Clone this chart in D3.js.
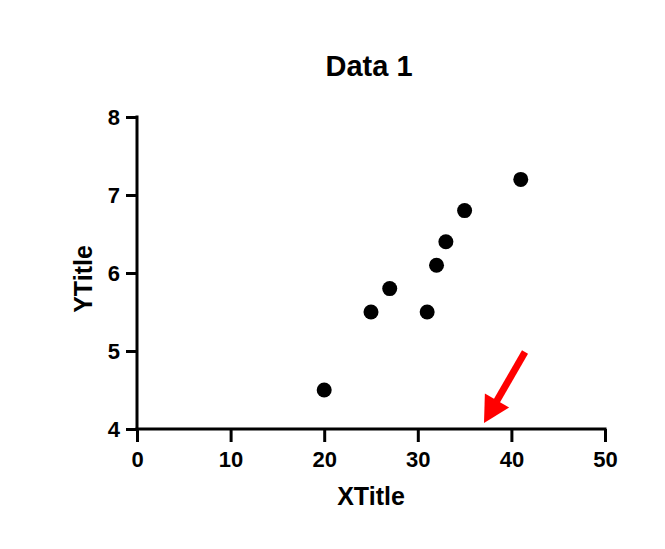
<!DOCTYPE html>
<html>
<head>
<meta charset="utf-8">
<script src="https://cdn.jsdelivr.net/npm/d3@7"></script>
<style>
  body { margin: 0; background: #fff; }
  text { font-family: "Liberation Sans", Arial, sans-serif; font-weight: bold; }
</style>
</head>
<body>
<script>
// Data
var xValues = [20, 25, 27, 31, 32, 33, 35, 41];
var yValues = [4.5, 5.5, 5.8, 5.5, 6.1, 6.4, 6.8, 7.2];
var xTicks = [0, 10, 20, 30, 40, 50];
var yTicks = [4, 5, 6, 7, 8];

var W = 665, H = 549;
var margin = {top: 117, left: 137},
    width = 605 - margin.left,
    height = 429 - margin.top;

var svg = d3.select("body")
  .append("svg")
    .attr("width", W)
    .attr("height", H);

var g = svg.append("g")
    .attr("transform", "translate(" + margin.left + "," + margin.top + ")");

var x = d3.scaleLinear().domain([0, 50]).range([0, width]);
var y = d3.scaleLinear().domain([4, 8]).range([height, 0]);

// Axes
var xAxis = g.append("g")
    .attr("transform", "translate(0," + height + ")")
    .call(d3.axisBottom(x).tickValues(xTicks).tickFormat(d3.format("d"))
      .tickSize(13).tickPadding(9).tickSizeOuter(0));

var yAxis = g.append("g")
    .call(d3.axisLeft(y).tickValues(yTicks).tickFormat(d3.format("d"))
      .tickSize(11).tickPadding(6).tickSizeOuter(0));

[xAxis, yAxis].forEach(function(a) {
  a.select(".domain").attr("stroke", "#000").attr("stroke-width", 3);
  a.selectAll(".tick line").attr("stroke", "#000").attr("stroke-width", 3);
  a.selectAll(".tick text").attr("fill", "#000").style("font-size", "22px");
});
// close the corner
xAxis.select(".domain").attr("d", "M-1.5,0H" + (width + 1.5));
yAxis.select(".domain").attr("d", "M0," + (height + 1.5) + "V-1.5");

// Points
g.selectAll(".dot")
  .data(xValues)
  .enter()
  .append("circle")
    .attr("class", "dot")
    .attr("cx", function(d) { return x(d); })
    .attr("cy", function(d, i) { return y(yValues[i]); })
    .attr("r", 7.5)
    .attr("fill", "#000");

// Titles
svg.append("text")
  .attr("x", 369).attr("y", 76)
  .attr("text-anchor", "middle")
  .style("font-size", "29px")
  .text("Data 1");

svg.append("text")
  .attr("x", 371).attr("y", 505)
  .attr("text-anchor", "middle")
  .style("font-size", "25px")
  .text("XTitle");

svg.append("text")
  .attr("transform", "translate(92,279) rotate(-90)")
  .attr("text-anchor", "middle")
  .style("font-size", "25px")
  .text("YTitle");

// Red arrow annotation
var tail = [525, 352], tip = [484, 423];
var dx = tip[0] - tail[0], dy = tip[1] - tail[1];
var len = Math.sqrt(dx * dx + dy * dy);
var ux = dx / len, uy = dy / len, px = -uy, py = ux;
var headLen = 26, headHalf = 14;
var base = [tip[0] - ux * headLen, tip[1] - uy * headLen];

svg.append("line")
  .attr("x1", tail[0]).attr("y1", tail[1])
  .attr("x2", base[0] + ux * 2).attr("y2", base[1] + uy * 2)
  .attr("stroke", "#ff0000")
  .attr("stroke-width", 7);

svg.append("polygon")
  .attr("points", [
    tip,
    [base[0] + px * headHalf, base[1] + py * headHalf],
    [base[0] - px * headHalf, base[1] - py * headHalf]
  ].map(function(p) { return p.join(","); }).join(" "))
  .attr("fill", "#ff0000");
</script>
</body>
</html>
